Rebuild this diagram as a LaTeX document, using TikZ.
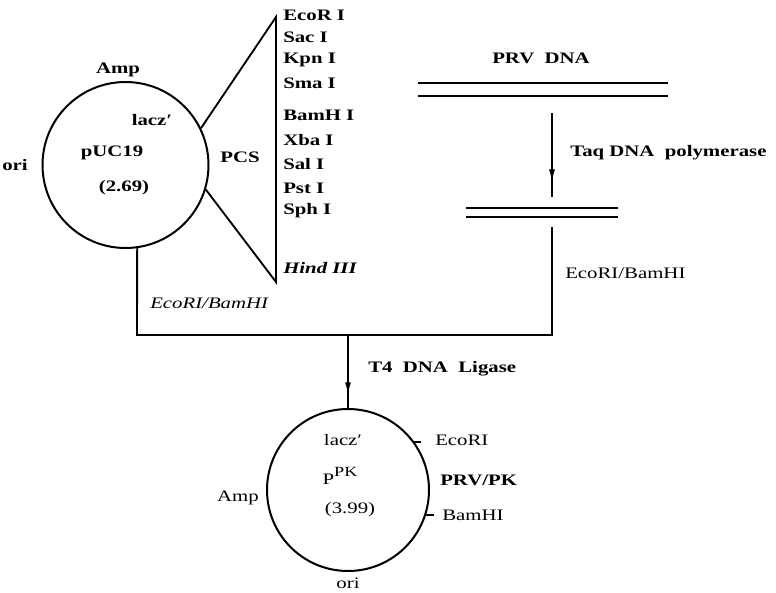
\documentclass[tikz,border=0pt]{standalone}
\usepackage{fontspec}
\setmainfont{Liberation Serif}[FakeStretch=1.3]
\usetikzlibrary{arrows.meta,decorations.markings}

\begin{document}
\begin{tikzpicture}[x=0.75pt,y=-0.75pt,
  line/.style={line width=1.4pt},
  strand/.style={line width=1.6pt},
  lbl/.style={inner sep=0pt, font=\fontsize{12}{14}\selectfont},
  blbl/.style={inner sep=0pt, font=\fontsize{12}{14}\selectfont\bfseries},
  enz/.style={blbl, anchor=west},
  plasmid/.style={circle, draw, line width=1.5pt, inner sep=0pt},
  midarrow/.style={postaction={decorate},
    decoration={markings, mark=at position #1 with {\arrow{Latex[length=10pt,width=4.5pt]}}}}
]
\useasboundingbox (0,0) rectangle (776,593);

% plasmids
\node[plasmid, minimum size=124.5pt] (puc) at (125.5,165) {};
\node[plasmid, minimum size=121.5pt] (ppk) at (348,490) {};

% labels of pUC19
\node[blbl] (ampA) at (118,70) {Amp};
\node[blbl] (laczA) at (152,120) {lacz′};
\node[blbl] (pucname) at (112,153) {pUC19};
\node[blbl] (pucsize) at (124,188) {(2.69)};
\node[blbl] (oriA) at (15,165) {ori};
\node[blbl] (pcs) at (240,157) {PCS};

% polylinker fan
\coordinate (mcsTop) at (276,17);
\coordinate (mcsBot) at (276,282);
\draw[line] (puc.26.4) -- (mcsTop) -- (mcsBot) -- (puc.-17.5);

\node[enz] (e1) at (283,15) {EcoR I};
\node[enz] (e2) at (283,37) {Sac I};
\node[enz] (e3) at (283,60) {Kpn I};
\node[enz] (e4) at (283,83) {Sma I};
\node[enz] (e5) at (283,115) {BamH I};
\node[enz] (e6) at (283,140) {Xba I};
\node[enz] (e7) at (283,164) {Sal I};
\node[enz] (e8) at (283,188) {Pst I};
\node[enz] (e9) at (283,211) {Sph I};
\node[enz] (e10) at (283,268) {\itshape Hind III};

% PRV DNA and PCR product
\node[blbl] (prv) at (541,58) {PRV\ \ DNA};
\coordinate (Ua) at (418,83);  \coordinate (Ub) at (668,83);
\coordinate (Va) at (418,96);  \coordinate (Vb) at (668,96);
\draw[strand] (Ua) -- (Ub);
\draw[strand] (Va) -- (Vb);

\coordinate (a1s) at (552,113);
\coordinate (a1e) at (552,197);
\draw[line, midarrow=0.83] (a1s) -- (a1e);
\node[blbl, anchor=west] (taq) at (570,153) {Taq DNA\ \ polymerase};

\coordinate (Sa) at (466,208); \coordinate (Sb) at (618,208);
\coordinate (Ta) at (466,217); \coordinate (Tb) at (618,217);
\draw[strand] (Sa) -- (Sb);
\draw[strand] (Ta) -- (Tb);

\node[lbl, anchor=west] (cutR) at (565,273) {EcoRI/BamHI};
\node[lbl, anchor=west, font=\fontsize{12}{14}\selectfont\itshape] (cutL) at (150,303) {EcoRI/BamHI};

% joining lines
\coordinate (dnaR) at (552,227);
\coordinate (jl) at (137,335);
\coordinate (jr) at (552,335);
\coordinate (jm) at (348,335);
\draw[line] (puc.-82) -- (jl) -- (jr) -- (dnaR);
\draw[line, midarrow=0.83] (jm) -- (ppk.north);
\node[blbl, anchor=west] (lig) at (368,369) {T4\ \ DNA\ \ Ligase};

% labels of pPK
\node[lbl] (laczB) at (343,440) {lacz′};
\node[lbl] (ppkname) at (340,476) {P\raisebox{0.5em}{\fontsize{10.5}{12}\selectfont PK}};
\node[lbl] (ppksize) at (350,510) {(3.99)};
\node[lbl] (ampB) at (238,498) {Amp};
\node[lbl] (oriB) at (348,583) {ori};
\draw[line] (ppk.36) -- ++(7,0);
\draw[line] (ppk.-18) -- ++(8,0);
\node[lbl, anchor=west] (ecoB) at (435,440) {EcoRI};
\node[blbl, anchor=west] (prvpk) at (440,480) {PRV/PK};
\node[lbl, anchor=west] (bamB) at (442,515) {BamHI};
\end{tikzpicture}
\end{document}
